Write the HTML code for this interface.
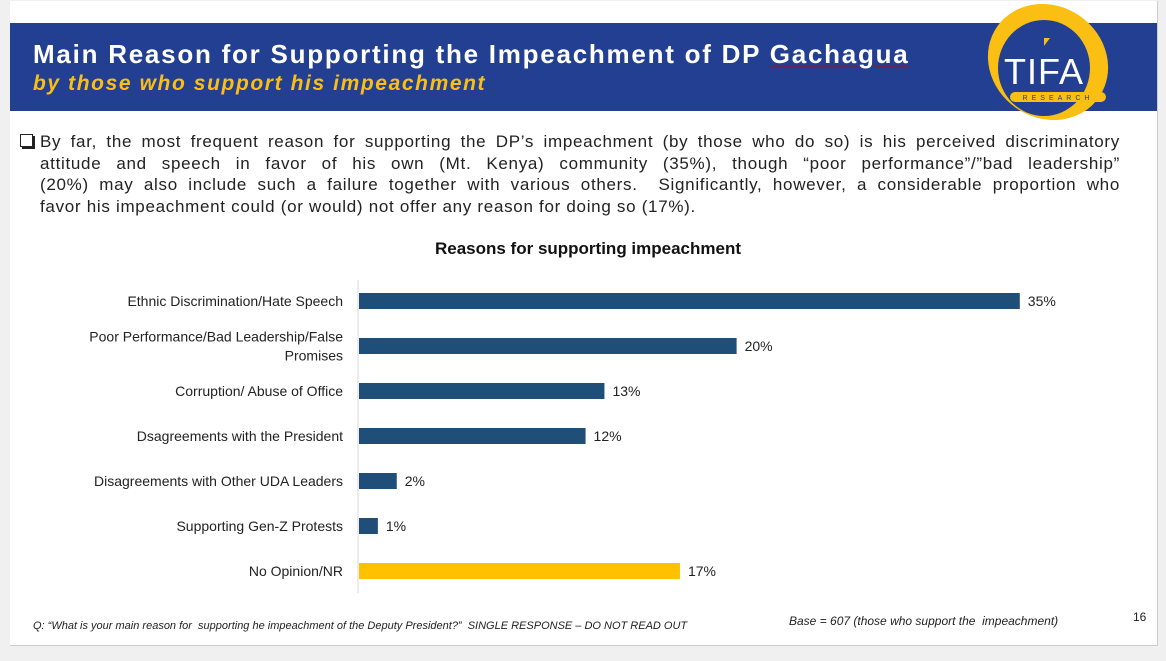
<!DOCTYPE html>
<html><head><meta charset="utf-8">
<style>
body{margin:0;width:1166px;height:661px;background:#f0f0f0;position:relative;overflow:hidden;font-family:"Liberation Sans",sans-serif;}
#slide{position:absolute;left:10px;top:1px;width:1147px;height:644px;background:#fff;border-right:1px solid #ccc;border-bottom:1px solid #ccc;}
#band{position:absolute;left:10px;top:23px;width:1147px;height:88px;background:#233f91;}
.t1{position:absolute;left:33px;top:39px;color:#fff;font-weight:bold;font-size:26px;letter-spacing:1.75px;white-space:nowrap;}
.t2{position:absolute;left:33px;top:72px;color:#fbbf14;font-weight:bold;font-style:italic;font-size:21px;letter-spacing:1.6px;white-space:nowrap;}
#body{position:absolute;left:40px;top:131px;width:1080px;font-size:17px;letter-spacing:0.7px;line-height:21.5px;color:#222;}
#body div{text-align:justify;text-align-last:justify;white-space:nowrap;}
#body div.last{text-align-last:left;}
#bul{position:absolute;left:20px;top:134px;width:11px;height:11px;border:1.5px solid #222;box-shadow:2px 2px 0 #222;}
.foot{position:absolute;font-style:italic;font-size:11px;color:#222;white-space:nowrap;}
</style></head><body>
<div id="slide"></div>
<div id="band"></div>
<div class="t1">Main Reason for Supporting the Impeachment of DP <span style="text-decoration:underline wavy #c00;text-decoration-thickness:1px">Gachagua</span></div>
<div class="t2">by those who support his impeachment</div>
<svg style="position:absolute;left:980px;top:0" width="140" height="130">
<ellipse cx="68" cy="62" rx="62" ry="56" fill="#fbbf14" transform="rotate(35 68 62)"/>
<ellipse cx="64" cy="68" rx="46" ry="48" fill="#233f91"/>
<polygon points="64,38 70,38 64,46" fill="#fbbf14"/>
<text x="64" y="84" text-anchor="middle" fill="#fff" font-size="36" font-family="Liberation Sans" letter-spacing="1">TIFA</text>
<rect x="30" y="92" width="96" height="10" rx="5" fill="#fbbf14"/>
<text x="78" y="100" text-anchor="middle" fill="#233f91" font-size="7" letter-spacing="4">RESEARCH</text>
</svg>
<div id="bul"></div>
<div id="body">
<div>By far, the most frequent reason for supporting the DP’s impeachment (by those who do so) is his perceived discriminatory</div>
<div>attitude and speech in favor of his own (Mt. Kenya) community (35%), though “poor performance”/”bad leadership”</div>
<div>(20%) may also include such a failure together with various others.&nbsp; Significantly, however, a considerable proportion who</div>
<div class="last">favor his impeachment could (or would) not offer any reason for doing so (17%).</div>
</div>
<svg id="chart" style="position:absolute;left:0;top:0" width="1166" height="661"></svg>
<div class="foot" style="left:33px;top:620px">Q: “What is your main reason for&nbsp; supporting he impeachment of the Deputy President?”&nbsp; SINGLE RESPONSE – DO NOT READ OUT</div>
<div class="foot" style="left:789px;top:614px;font-size:12px">Base = 607 (those who support the&nbsp; impeachment)</div>
<div class="foot" style="left:1133px;top:610px;font-style:normal;font-size:12px">16</div>
<script>
const categories=[["Ethnic Discrimination/Hate Speech"],["Poor Performance/Bad Leadership/False","Promises"],["Corruption/ Abuse of Office"],["Dsagreements with the President"],["Disagreements with Other UDA Leaders"],["Supporting Gen-Z Protests"],["No Opinion/NR"]];
const values=[35,20,13,12,2,1,17];
const colors=["#1f4e79","#1f4e79","#1f4e79","#1f4e79","#1f4e79","#1f4e79","#ffc000"];
const labels=["35%","20%","13%","12%","2%","1%","17%"];
const svg=document.getElementById('chart');const NS="http://www.w3.org/2000/svg";
const x0=359,scale=18.88,y0=301,step=45,bh=16;
const xs=v=>x0+v*scale, ys=i=>y0+i*step;
function mk(t,a){const e=document.createElementNS(NS,t);for(const k in a)e.setAttribute(k,a[k]);svg.appendChild(e);return e;}
const tt=mk('text',{x:588,y:254,'text-anchor':'middle','font-size':17,'font-weight':'bold',fill:'#111','font-family':'Liberation Sans'});tt.textContent="Reasons for supporting impeachment";


const ax=mk('line',{x1:358,x2:358,y1:280,y2:593,stroke:'#d9d9d9','stroke-width':1});


values.forEach((v,i)=>{
 const c=ys(i);
 const r=mk('rect',{x:x0,y:c-bh/2,width:xs(v)-x0,height:bh,fill:colors[i]});
 
 
 const l=mk('text',{x:xs(v)+8,y:c+5,'font-size':14,fill:'#222','font-family':'Liberation Sans'});l.textContent=labels[i];
 
 
 const lines=categories[i];
 lines.forEach((s,j)=>{
  const t=mk('text',{x:343,y:c+5+(j-(lines.length-1)/2)*19,'text-anchor':'end','font-size':14,fill:'#222','font-family':'Liberation Sans'});t.textContent=s;
  
  
 });
});
</script>
</body></html>
